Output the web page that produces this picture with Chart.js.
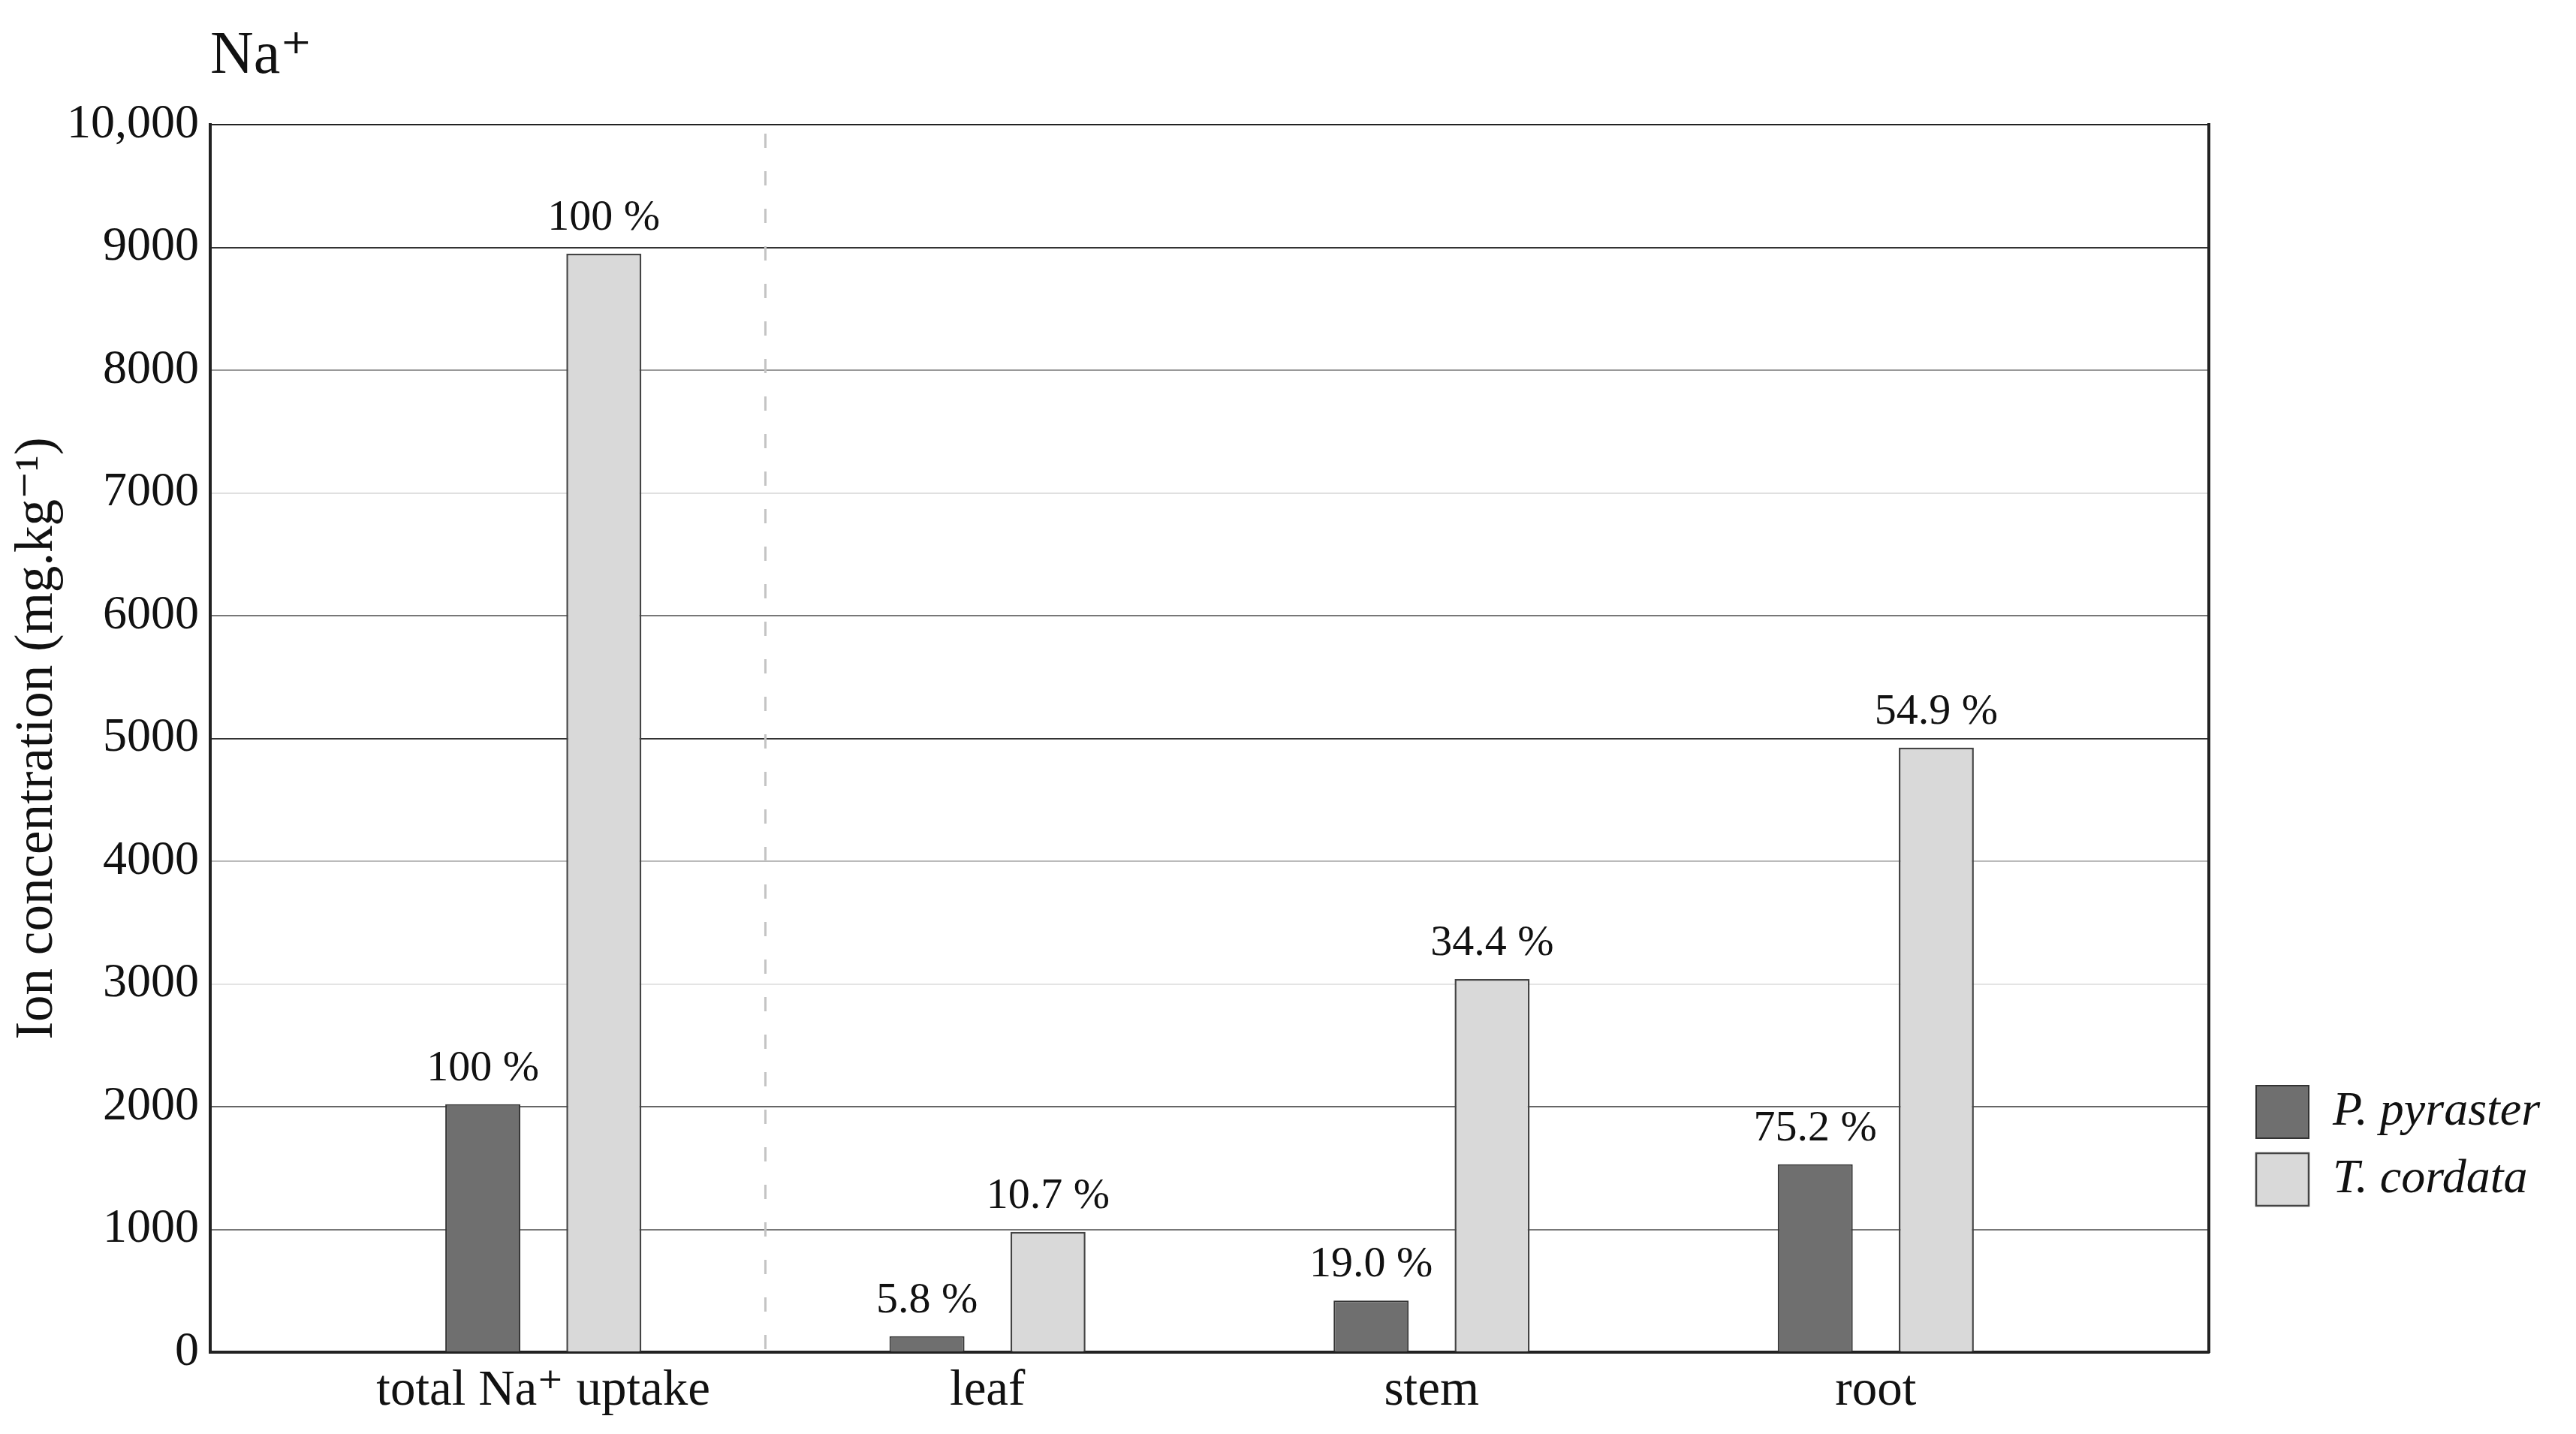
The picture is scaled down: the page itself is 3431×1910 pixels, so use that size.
<!DOCTYPE html>
<html>
<head>
<meta charset="utf-8">
<script src="https://cdn.jsdelivr.net/npm/chart.js@4.4.1/dist/chart.umd.min.js"></script>
<style>
  body { margin: 0; background: #fff; }
</style>
</head>
<body>
<canvas id="naChart" width="3431" height="1910"></canvas>
<script>
// Na+ concentration per organ, two tree species
const categories = ['total Na⁺ uptake', 'leaf', 'stem', 'root'];
const pyraster = [2020, 130, 420, 1530];
const cordata = [8950, 980, 3040, 4925];
const pyrasterPct = ['100 %', '5.8 %', '19.0 %', '75.2 %'];
const cordataPct = ['100 %', '10.7 %', '34.4 %', '54.9 %'];
const yTickLabels = ['0', '1000', '2000', '3000', '4000', '5000', '6000', '7000', '8000', '9000', '10,000'];
const seriesNames = ['P. pyraster', 'T. cordata'];

const serif = '"Liberation Serif", "DejaVu Serif", serif';
const gridColors = ['#222', '#777', '#666', '#e4e4e4', '#bbb', '#333', '#777', '#e0e0e0', '#999', '#333', '#222'];
const legendFontSize = 64;

// dashed separator between the total and the organs
const separator = {
    id: 'separator',
    beforeDatasetsDraw(chart) {
        const {ctx, chartArea, scales} = chart;
        const x = scales.x.getPixelForValue(0.5);
        ctx.save();
        ctx.strokeStyle = '#c4c4c4';
        ctx.lineWidth = 3;
        ctx.setLineDash([19, 31]);
        ctx.beginPath();
        ctx.moveTo(x, chartArea.top + 12);
        ctx.lineTo(x, chartArea.bottom);
        ctx.stroke();
        ctx.restore();
    }
};

// percentage labels above the bars
const barLabels = {
    id: 'barLabels',
    afterDatasetsDraw(chart) {
        const ctx = chart.ctx;
        const texts = [pyrasterPct, cordataPct];
        ctx.save();
        ctx.font = '58px ' + serif;
        ctx.fillStyle = '#111';
        ctx.textAlign = 'center';
        ctx.textBaseline = 'alphabetic';
        chart.data.datasets.forEach((ds, d) => {
            chart.getDatasetMeta(d).data.forEach((bar, i) => {
                ctx.fillText(texts[d][i], bar.x, bar.y - 32);
            });
        });
        ctx.restore();
    }
};

function drawChart() {
    const ctx = document.getElementById('naChart').getContext('2d');

    // legend sits a fixed distance right of the plot; pad the canvas edge by what the text leaves over
    ctx.font = 'italic ' + legendFontSize + 'px ' + serif;
    const legendTextW = Math.max(...seriesNames.map(s => ctx.measureText(s).width));
    const rightPad = Math.max(0, 436 - (20 + 70 + legendFontSize / 2 + legendTextW));

    new Chart(ctx, {
        type: 'bar',
        data: {
            datasets: [{
                label: seriesNames[0],
                data: pyraster.map((v, i) => ({x: i, y: v})),
                backgroundColor: '#6f6f6f',
                borderColor: '#333',
                borderWidth: 2
            }, {
                label: seriesNames[1],
                data: cordata.map((v, i) => ({x: i, y: v})),
                backgroundColor: '#d9d9d9',
                borderColor: '#444',
                borderWidth: 2.5
            }]
        },
        options: {
            responsive: false,
            animation: false,
            devicePixelRatio: 1,
            categoryPercentage: 0.545,
            barPercentage: 0.62,
            layout: { padding: { right: rightPad } },
            plugins: {
                title: {
                    display: true,
                    text: 'Na⁺',
                    align: 'start',
                    fullSize: false,
                    color: '#111',
                    font: { family: serif, size: 80, weight: 'normal' },
                    padding: { top: 28, bottom: 42 }
                },
                legend: {
                    display: true,
                    position: 'right',
                    align: 'start',
                    title: {
                        display: true,
                        text: ' ',
                        font: { size: 10 },
                        padding: { top: 1414, bottom: 0 }
                    },
                    labels: {
                        boxWidth: 70,
                        boxHeight: 70,
                        padding: 20,
                        color: '#111',
                        font: { family: serif, size: legendFontSize, style: 'italic' }
                    }
                },
                tooltip: { enabled: false }
            },
            scales: {
                x: {
                    type: 'linear',
                    min: -0.75,
                    max: 3.75,
                    offset: false,
                    afterBuildTicks(scale) {
                        scale.ticks = categories.map((c, i) => ({value: i}));
                    },
                    afterFit(scale) { scale.height = 109; },
                    grid: { display: false, drawTicks: false },
                    border: { display: true, color: '#222', width: 4 },
                    ticks: {
                        color: '#111',
                        padding: 12,
                        maxRotation: 0,
                        autoSkip: false,
                        font: { family: serif, size: 67 },
                        callback: (value) => categories[value]
                    }
                },
                y: {
                    min: 0,
                    max: 10000,
                    afterFit(scale) { scale.width = 280; },
                    ticks: {
                        stepSize: 1000,
                        color: '#111',
                        padding: 15,
                        font: { family: serif, size: 64 },
                        callback: (value, index) => yTickLabels[index]
                    },
                    grid: {
                        drawTicks: false,
                        lineWidth: 2,
                        color: (c) => gridColors[c.index]
                    },
                    border: { display: true, color: '#222', width: 4 },
                    title: {
                        display: true,
                        text: 'Ion concentration (mg.kg⁻¹)',
                        color: '#111',
                        font: { family: serif, size: 71 },
                        padding: { top: 8, bottom: 0 }
                    }
                },
                y2: {
                    position: 'right',
                    min: 0,
                    max: 10000,
                    afterFit(scale) { scale.width = 43; },
                    grid: { display: false, drawTicks: false },
                    ticks: { display: false },
                    border: { display: true, color: '#222', width: 4 }
                }
            }
        },
        plugins: [separator, barLabels]
    });
}

document.fonts.load('italic ' + legendFontSize + 'px "Liberation Serif"')
    .then(drawChart, drawChart);
</script>
</body>
</html>
